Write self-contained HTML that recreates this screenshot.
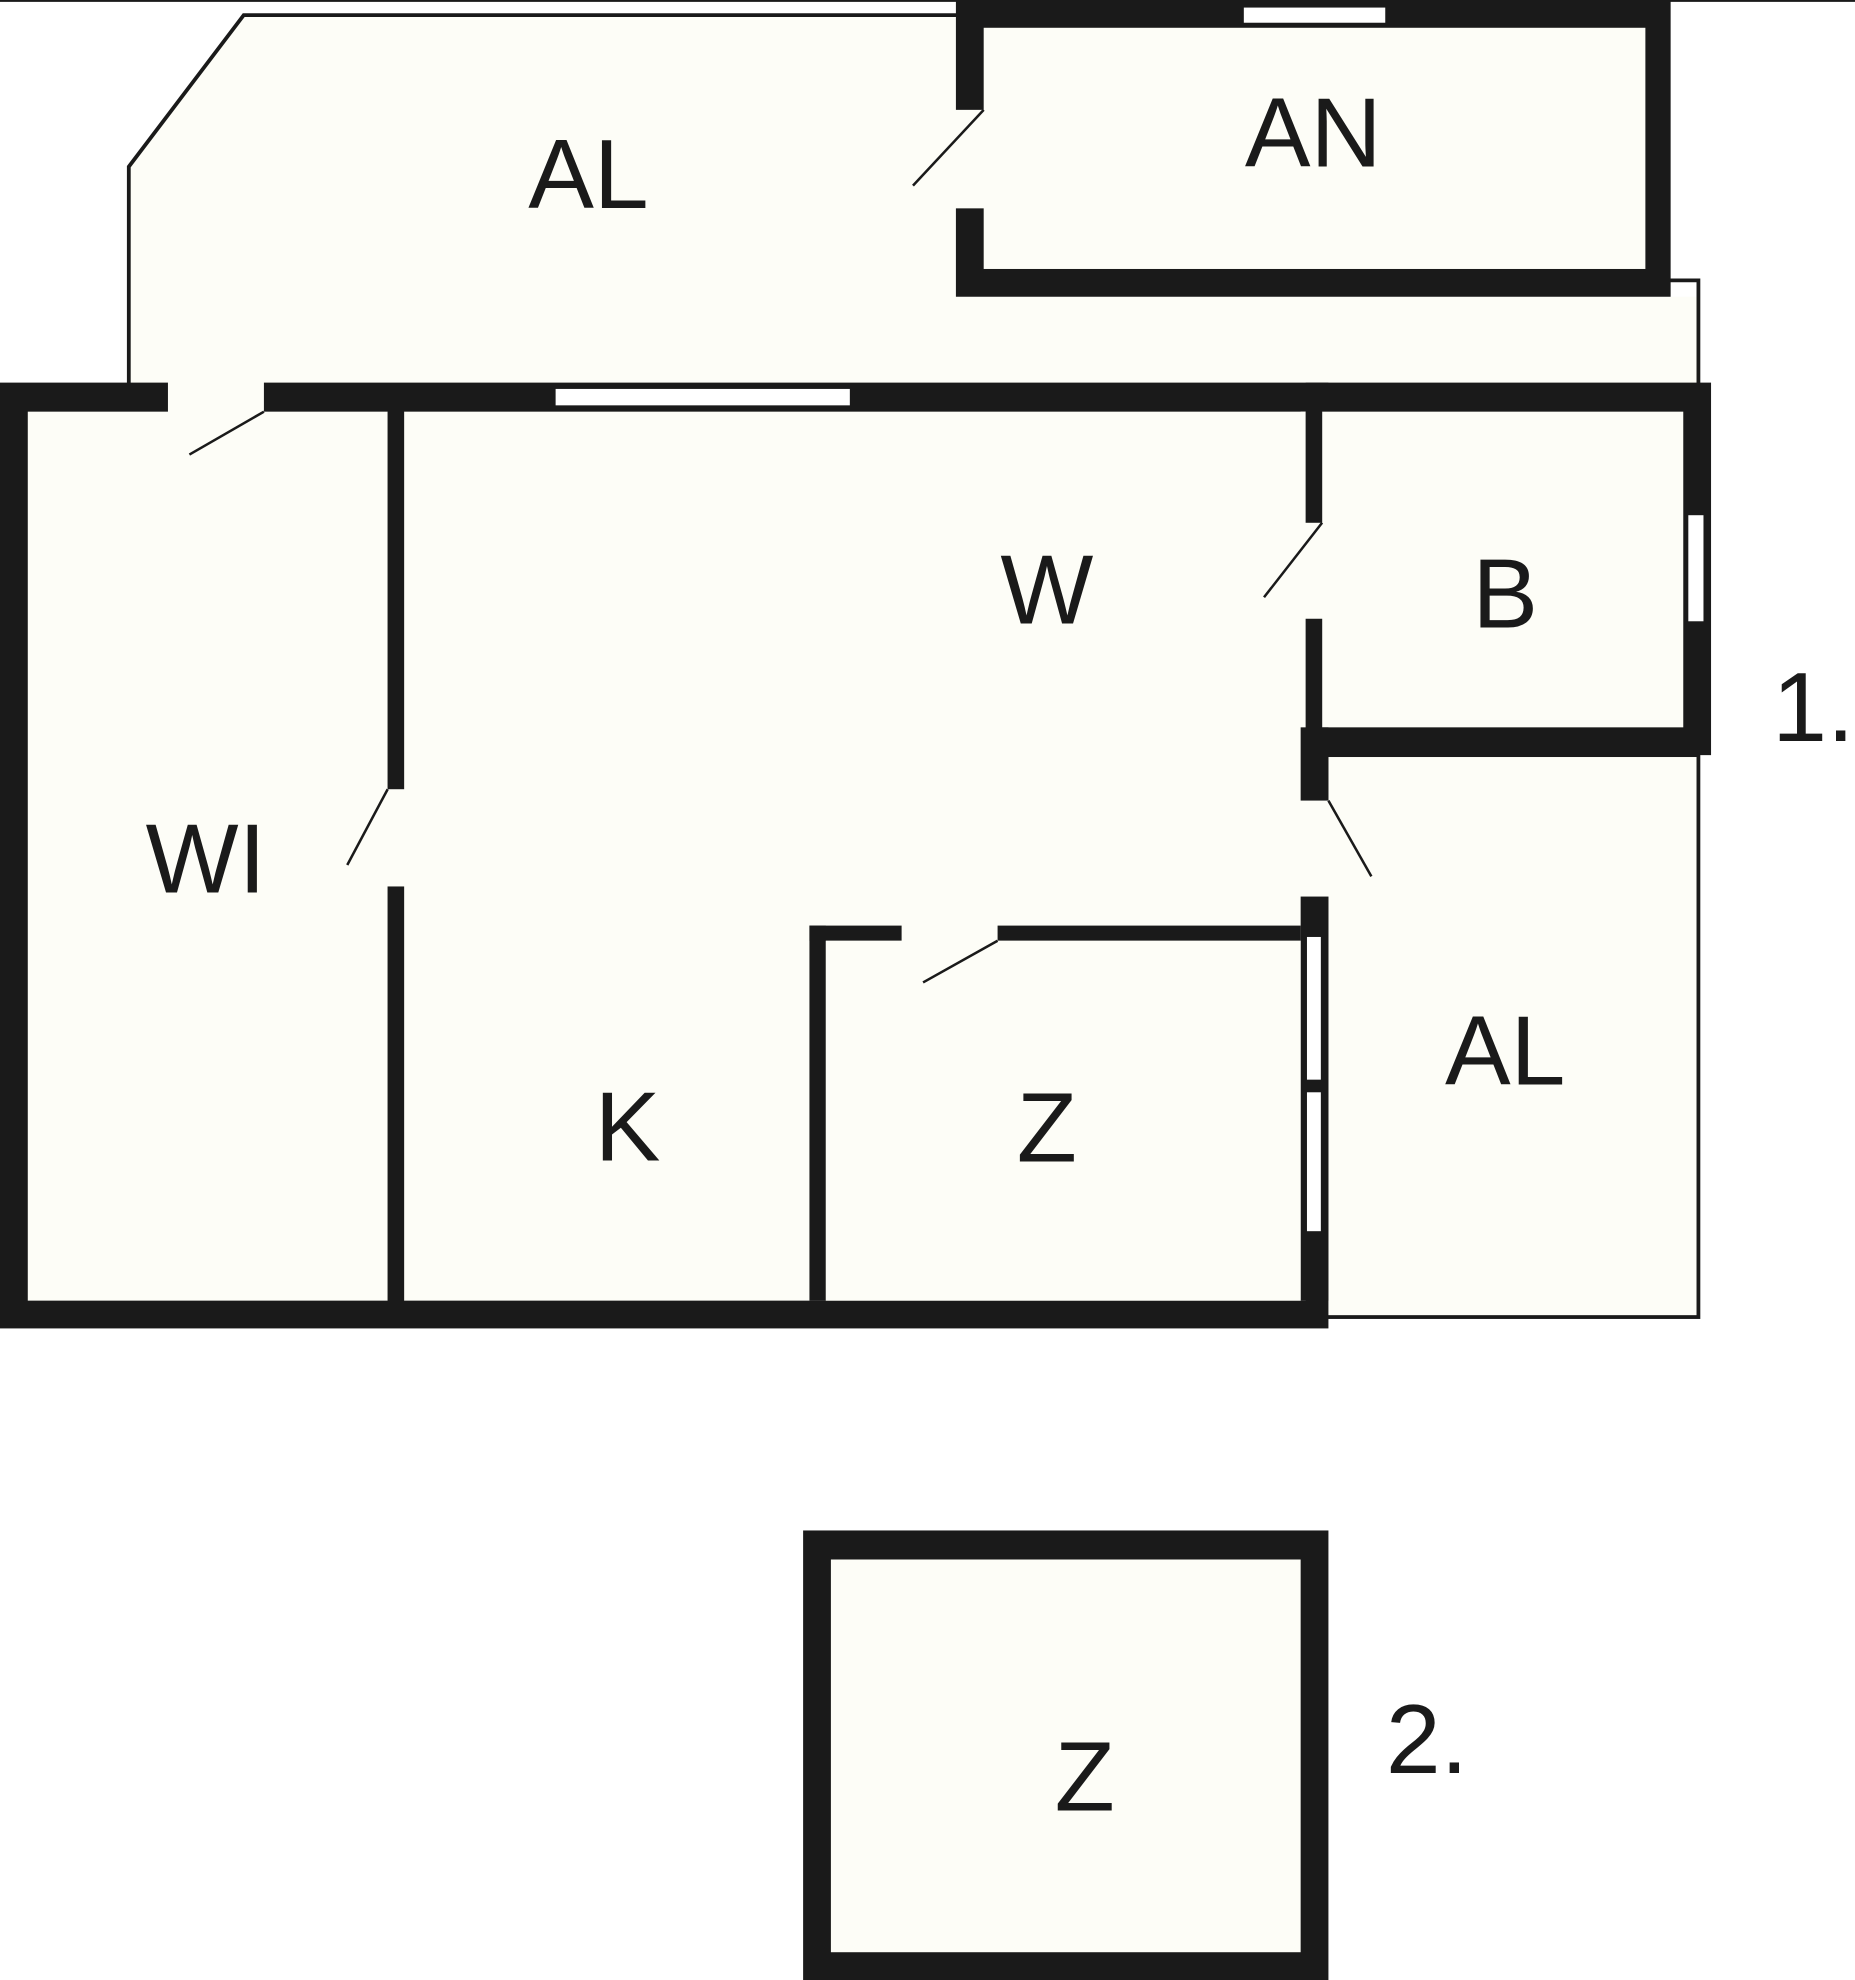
<!DOCTYPE html>
<html><head><meta charset="utf-8"><style>
html,body{margin:0;padding:0;background:#fff;}
svg{display:block;}
text{font-family:"Liberation Sans",sans-serif;font-size:78px;fill:#1a1a1a;text-anchor:middle;dominant-baseline:central;}
</style></head><body>
<svg width="1855" height="1980" viewBox="0 0 1469 1568" preserveAspectRatio="none" xmlns="http://www.w3.org/2000/svg">
<rect width="1469" height="1568" fill="#fff"/>
<line x1="0" y1="0.7" x2="1469" y2="0.7" stroke="#1a1a1a" stroke-width="1.5"/>
<!-- upper AL -->
<polygon points="102,303 102,132 193,12 757,12 757,235 1345,235 1345,303" fill="#fdfdf7"/>
<polyline points="102,305 102,132 193,12 760,12" fill="none" stroke="#1a1a1a" stroke-width="3"/>
<polyline points="1322,222 1345,222 1345,305" fill="none" stroke="#1a1a1a" stroke-width="3"/>
<!-- AN -->
<rect x="757" y="0" width="566" height="235" fill="#1a1a1a"/>
<rect x="779" y="22" width="524" height="191" fill="#fdfdf7"/>
<rect x="985" y="6" width="112" height="12" fill="#fff"/>
<rect x="756" y="87" width="24" height="78" fill="#fdfdf7"/>
<line x1="779" y1="87" x2="723" y2="147" stroke="#1a1a1a" stroke-width="2"/>
<!-- right AL -->
<rect x="1045" y="598" width="300" height="445" fill="#fdfdf7" stroke="#1a1a1a" stroke-width="3"/>
<!-- main building -->
<rect x="0" y="303" width="1052" height="749" fill="#1a1a1a"/>
<rect x="1034" y="303" width="321" height="295" fill="#1a1a1a"/>
<rect x="22" y="326" width="285" height="704" fill="#fdfdf7"/>
<rect x="320" y="326" width="714" height="704" fill="#fdfdf7"/>
<rect x="1030" y="326" width="4" height="250" fill="#fdfdf7"/>
<rect x="1047" y="326" width="286" height="250" fill="#fdfdf7"/>
<!-- interior walls -->
<rect x="307" y="326" width="13" height="704" fill="#1a1a1a"/>
<rect x="1034" y="326" width="13" height="252" fill="#1a1a1a"/>
<rect x="1030" y="576" width="22" height="454" fill="#1a1a1a"/>
<rect x="641" y="733" width="13" height="297" fill="#1a1a1a"/>
<rect x="641" y="733" width="389" height="12" fill="#1a1a1a"/>
<rect x="654" y="745" width="376" height="285" fill="#fdfdf7"/>
<!-- gaps and windows -->
<rect x="133" y="302" width="76" height="25" fill="#fdfdf7"/>
<line x1="209" y1="326" x2="150" y2="360" stroke="#1a1a1a" stroke-width="2"/>
<rect x="440" y="308" width="233" height="13" fill="#fff"/>
<rect x="306" y="625" width="15" height="77" fill="#fdfdf7"/>
<line x1="307" y1="625" x2="275" y2="685" stroke="#1a1a1a" stroke-width="2"/>
<rect x="1033" y="414" width="15" height="76" fill="#fdfdf7"/>
<line x1="1047" y1="414" x2="1001" y2="473" stroke="#1a1a1a" stroke-width="2"/>
<rect x="1337" y="408" width="12" height="84" fill="#fff"/>
<rect x="1029" y="634" width="24" height="76" fill="#fdfdf7"/>
<line x1="1052" y1="634" x2="1086" y2="694" stroke="#1a1a1a" stroke-width="2"/>
<rect x="1035" y="742" width="11" height="113" fill="#fff"/>
<rect x="1035" y="865" width="11" height="110" fill="#fff"/>
<rect x="714" y="732" width="76" height="14" fill="#fdfdf7"/>
<line x1="790" y1="745" x2="731" y2="778" stroke="#1a1a1a" stroke-width="2"/>
<!-- lower Z -->
<rect x="636" y="1212" width="416" height="356" fill="#1a1a1a"/>
<rect x="658" y="1235" width="372" height="311" fill="#fdfdf7"/>
<!-- labels -->
<text x="466" y="138">AL</text>
<text x="1040" y="105">AN</text>
<text x="829" y="467">W</text>
<text x="1192" y="470">B</text>
<text x="163" y="680">WI</text>
<text x="497" y="892">K</text>
<text x="829" y="893">Z</text>
<text x="1192" y="832">AL</text>
<text x="859" y="1407">Z</text>
<text x="1436" y="560">1.</text>
<text x="1130" y="1377">2.</text>
</svg>
</body></html>
